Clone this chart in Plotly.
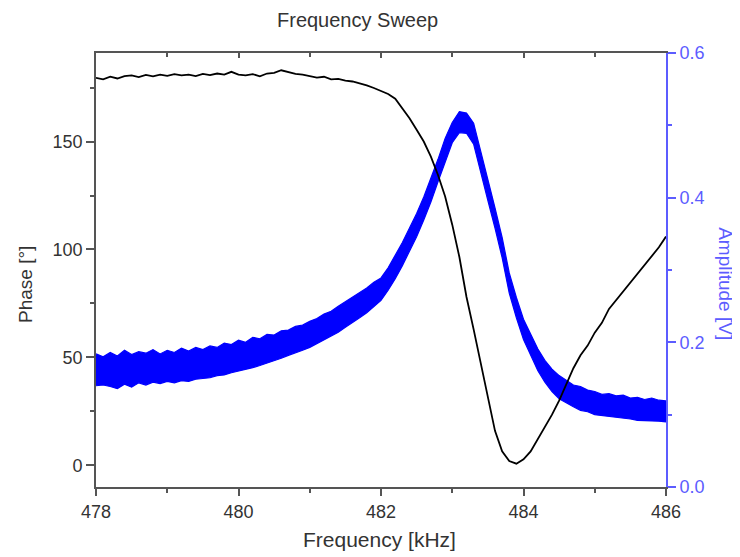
import plotly.graph_objects as go

# ---- data ----
freq_khz = [478.0, 478.1, 478.2, 478.3, 478.4, 478.5, 478.6, 478.7, 478.8, 478.9,
            479.0, 479.1, 479.2, 479.3, 479.4, 479.5, 479.6, 479.7, 479.8, 479.9,
            480.0, 480.1, 480.2, 480.3, 480.4, 480.5, 480.6, 480.7, 480.8, 480.9,
            481.0, 481.1, 481.2, 481.3, 481.4, 481.5, 481.6, 481.7, 481.8, 481.9,
            482.0, 482.1, 482.2, 482.3, 482.4, 482.5, 482.6, 482.7, 482.8, 482.9,
            483.0, 483.1, 483.2, 483.3, 483.4, 483.5, 483.6, 483.7, 483.8, 483.9,
            484.0, 484.1, 484.2, 484.3, 484.4, 484.5, 484.6, 484.7, 484.8, 484.9,
            485.0, 485.1, 485.2, 485.3, 485.4, 485.5, 485.6, 485.7, 485.8, 485.9,
            486.0]

phase_deg = [179.5, 178.8, 180.0, 179.2, 180.3, 180.6, 179.8, 180.9, 180.2, 181.0,
             180.4, 181.2, 180.6, 181.0, 180.3, 181.3, 180.8, 181.5, 181.0, 182.3,
             181.0, 180.6, 181.2, 180.2, 181.5, 181.8, 183.0, 182.0, 181.3, 181.0,
             180.2, 179.6, 180.0, 178.8, 179.0, 178.2, 177.8, 177.0, 176.0, 174.8,
             173.5, 172.0, 169.8, 165.5, 160.8, 155.5, 150.0, 143.0, 134.5, 124.5,
             111.5, 96.5, 78.0, 63.0, 47.5, 31.0, 16.0, 6.5, 2.0, 0.8,
             2.8, 6.5, 12.0, 18.0, 23.5, 30.0, 37.5, 45.0, 51.0, 55.5,
             61.5, 66.0, 72.5, 76.5, 81.0, 85.0, 88.5, 92.5, 96.5, 101.0,
             106.0]

# amplitude noise band: upper and lower edges of the blue trace [V]
amp_upper = [0.184, 0.180, 0.186, 0.181, 0.189, 0.183, 0.187, 0.185, 0.190, 0.184,
             0.189, 0.186, 0.192, 0.188, 0.193, 0.190, 0.195, 0.193, 0.199, 0.197,
             0.203, 0.200, 0.207, 0.205, 0.211, 0.210, 0.216, 0.217, 0.222, 0.224,
             0.229, 0.233, 0.239, 0.243, 0.250, 0.256, 0.262, 0.269, 0.275, 0.283,
             0.289, 0.303, 0.320, 0.338, 0.358, 0.378, 0.401, 0.426, 0.453, 0.482,
             0.504, 0.519, 0.517, 0.503, 0.462, 0.425, 0.386, 0.345, 0.296, 0.262,
             0.232, 0.211, 0.191, 0.175, 0.163, 0.154, 0.148, 0.141, 0.139, 0.134,
             0.132, 0.128, 0.129, 0.126, 0.127, 0.123, 0.124, 0.121, 0.123, 0.120,
             0.119]
amp_lower = [0.140, 0.141, 0.139, 0.136, 0.142, 0.138, 0.144, 0.141, 0.145, 0.143,
             0.146, 0.144, 0.147, 0.146, 0.149, 0.150, 0.151, 0.154, 0.155, 0.158,
             0.160, 0.163, 0.165, 0.168, 0.171, 0.175, 0.178, 0.182, 0.185, 0.189,
             0.193, 0.198, 0.203, 0.208, 0.214, 0.221, 0.227, 0.234, 0.241, 0.249,
             0.258, 0.272, 0.288, 0.306, 0.325, 0.346, 0.369, 0.394, 0.422, 0.449,
             0.476, 0.490, 0.489, 0.474, 0.433, 0.396, 0.358, 0.317, 0.268, 0.234,
             0.204, 0.182, 0.161, 0.145, 0.132, 0.122, 0.116, 0.111, 0.106, 0.104,
             0.100, 0.099, 0.097, 0.096, 0.095, 0.094, 0.092, 0.092, 0.091, 0.091,
             0.090]

x_ticks = [478, 480, 482, 484, 486]
phase_ticks = [0, 50, 100, 150]
amp_ticks = [0.0, 0.2, 0.4, 0.6]

FONT = "Liberation Sans, Arial, sans-serif"
AXIS_GREY = "#555555"
TEXT_GREY = "#333333"
AMP_AXIS = "#5c5cff"
BLUE = "#0000ff"

fig = go.Figure()

# amplitude band (right axis) -> primary y so the phase trace sits on top
fig.add_trace(go.Scatter(x=freq_khz, y=amp_lower, xaxis="x", yaxis="y",
                         mode="lines", line=dict(color=BLUE, width=1.2),
                         showlegend=False, hoverinfo="skip"))
fig.add_trace(go.Scatter(x=freq_khz, y=amp_upper, xaxis="x", yaxis="y",
                         mode="lines", line=dict(color=BLUE, width=1.2),
                         fill="tonexty", fillcolor=BLUE,
                         showlegend=False, name="Amplitude"))

# phase (left axis)
fig.add_trace(go.Scatter(x=freq_khz, y=phase_deg, xaxis="x", yaxis="y2",
                         mode="lines", line=dict(color="black", width=1.8),
                         showlegend=False, name="Phase"))

# empty trace so the top (mirror) axis with inward ticks is drawn
fig.add_trace(go.Scatter(x=[], y=[], xaxis="x2", yaxis="y", showlegend=False))

fig.update_layout(
    width=732, height=549,
    margin=dict(l=88, r=74, t=45, b=70),
    paper_bgcolor="white", plot_bgcolor="white",
    font=dict(family=FONT, color=TEXT_GREY, size=16),
    xaxis=dict(range=[478, 486], tickvals=x_ticks, ticktext=[str(v) for v in x_ticks],
               ticks="outside", ticklen=7, tickwidth=1.5, tickcolor=AXIS_GREY,
               minor=dict(dtick=1, tick0=478, ticks="outside", ticklen=4,
                          tickwidth=1.5, tickcolor=AXIS_GREY),
               showline=True, linecolor=AXIS_GREY, linewidth=1.8,
               showgrid=False, zeroline=False,
               tickfont=dict(size=18, color=TEXT_GREY)),
    xaxis2=dict(range=[478, 486], overlaying="x", side="top", matches="x",
                tickvals=x_ticks, showticklabels=False,
                ticks="inside", ticklen=5, tickwidth=1.5, tickcolor=AXIS_GREY,
                minor=dict(dtick=1, tick0=478, ticks="inside", ticklen=4,
                           tickwidth=1.5, tickcolor=AXIS_GREY),
                showline=True, linecolor=AXIS_GREY, linewidth=1.8,
                showgrid=False, zeroline=False),
    yaxis=dict(range=[0, 0.6], side="right", tickvals=amp_ticks,
               ticktext=["%.1f" % v for v in amp_ticks],
               ticks="outside", ticklen=8, tickwidth=1.5, tickcolor=AMP_AXIS,
               minor=dict(dtick=0.1, tick0=0, ticks="outside", ticklen=4,
                          tickwidth=1.5, tickcolor=AMP_AXIS),
               showline=True, linecolor=AMP_AXIS, linewidth=1.8,
               showgrid=False, zeroline=False,
               tickfont=dict(size=18, color=AMP_AXIS)),
    yaxis2=dict(range=[-10, 191], side="left", overlaying="y", tickvals=phase_ticks,
                ticktext=[str(v) for v in phase_ticks],
                ticks="outside", ticklen=8, tickwidth=1.5, tickcolor=AXIS_GREY,
                minor=dict(dtick=25, tick0=0, ticks="outside", ticklen=4,
                           tickwidth=1.5, tickcolor=AXIS_GREY),
                showline=True, linecolor=AXIS_GREY, linewidth=1.8,
                showgrid=False, zeroline=False,
                tickfont=dict(size=18, color=TEXT_GREY)),
    annotations=[
        dict(text="Frequency Sweep", xref="paper", yref="paper",
             x=0.4596, y=1.076, xanchor="center", yanchor="middle",
             showarrow=False, font=dict(size=20, color=TEXT_GREY, family=FONT)),
        dict(text="Frequency [kHz]", xref="paper", yref="paper",
             x=0.498, y=-0.122, xanchor="center", yanchor="middle",
             showarrow=False, font=dict(size=21, color=TEXT_GREY, family=FONT)),
        dict(text="Phase [°]", xref="paper", yref="paper",
             x=-0.1246, y=0.4677, xanchor="center", yanchor="middle",
             textangle=-90, showarrow=False,
             font=dict(size=19, color=TEXT_GREY, family=FONT)),
        dict(text="Amplitude [V]", xref="paper", yref="paper",
             x=1.105, y=0.4677, xanchor="center", yanchor="middle",
             textangle=90, showarrow=False,
             font=dict(size=19, color=AMP_AXIS, family=FONT)),
    ],
)

fig.write_html("out.html")
